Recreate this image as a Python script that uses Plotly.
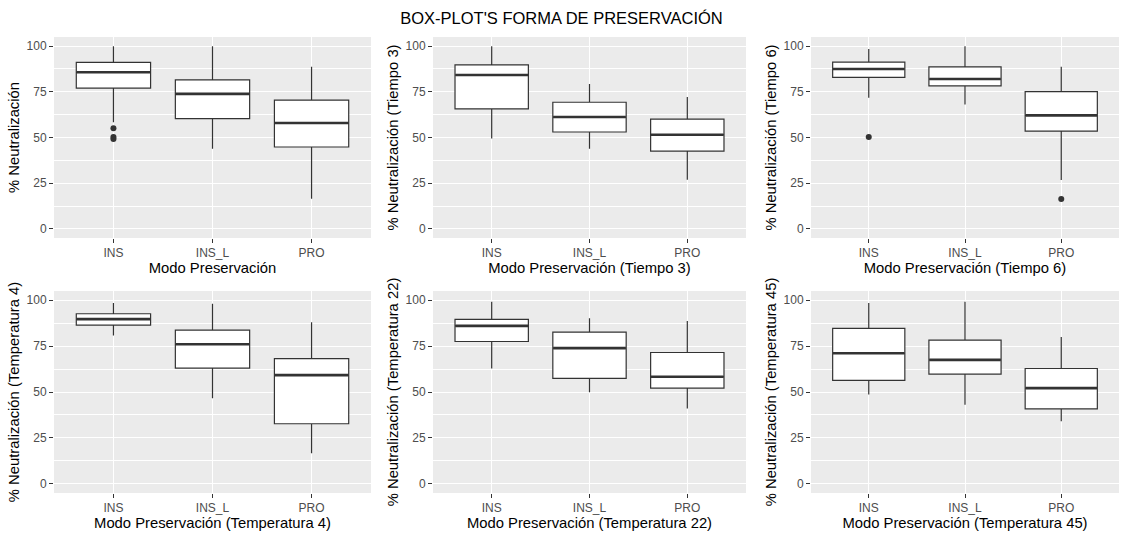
import plotly.graph_objects as go

categories = ["INS", "INS_L", "PRO"]

x_titles = [
    "Modo Preservación",
    "Modo Preservación (Tiempo 3)",
    "Modo Preservación (Tiempo 6)",
    "Modo Preservación (Temperatura 4)",
    "Modo Preservación (Temperatura 22)",
    "Modo Preservación (Temperatura 45)",
]
y_titles = [
    "% Neutralización",
    "% Neutralización (Tiempo 3)",
    "% Neutralización (Tiempo 6)",
    "% Neutralización (Temperatura 4)",
    "% Neutralización (Temperatura 22)",
    "% Neutralización (Temperatura 45)",
]

lower_fence = [
    [58.4, 43.9, 16.5],
    [49.4, 43.9, 26.9],
    [71.7, 68.1, 26.7],
    [80.8, 46.6, 16.7],
    [62.8, 49.9, 41.0],
    [48.6, 43.0, 34.1],
]
q1 = [
    [77.0, 60.3, 44.8],
    [65.7, 53.0, 42.5],
    [82.9, 78.2, 53.5],
    [86.4, 63.0, 32.7],
    [77.5, 57.4, 52.1],
    [56.3, 59.7, 40.8],
]
medians = [
    [85.7, 73.9, 57.9],
    [84.2, 61.2, 51.5],
    [87.5, 82.0, 62.1],
    [89.7, 76.0, 59.2],
    [86.0, 73.9, 58.3],
    [71.1, 67.5, 52.1],
]
q3 = [
    [91.1, 81.5, 70.4],
    [89.7, 69.3, 60.1],
    [91.3, 88.6, 75.1],
    [92.6, 83.7, 68.2],
    [89.5, 82.6, 71.5],
    [84.6, 78.2, 62.8],
]
upper_fence = [
    [100.0, 100.0, 88.7],
    [100.0, 79.3, 72.1],
    [98.4, 100.0, 88.7],
    [98.4, 98.0, 88.0],
    [99.1, 90.2, 88.7],
    [98.4, 99.1, 80.0],
]
outlier_cats = [["INS", "INS", "INS"], [], ["INS", "PRO"], [], [], []]
outlier_vals = [[55.0, 50.3, 49.2], [], [50.3, 16.3], [], [], []]

W, H = 1123, 534
x_px = [(54, 371), (433, 746), (811, 1119)]
y_px = [(37, 238), (291, 493)]

fig = go.Figure()
layout = {}
font_family = "Liberation Sans, Arial, sans-serif"

for i in range(6):
    r, c = divmod(i, 3)
    n = "" if i == 0 else str(i + 1)
    xa, ya = "x" + n, "y" + n
    x0, x1 = x_px[c]
    y0, y1 = y_px[r]
    fig.add_trace(go.Box(
        x=categories, q1=q1[i], median=medians[i], q3=q3[i],
        lowerfence=lower_fence[i], upperfence=upper_fence[i],
        boxpoints=False, width=0.75, whiskerwidth=0,
        fillcolor="white", line=dict(color="#333333", width=1.2),
        xaxis=xa, yaxis=ya, showlegend=False, hoverinfo="skip",
    ))
    box_px = (x1 - x0) / 3.2 * 0.75
    fig.add_trace(go.Scatter(
        x=categories, y=medians[i], mode="markers",
        marker=dict(symbol="line-ew", size=box_px / 1.4 - 0.5,
                    line=dict(color="#333333", width=2.6)),
        xaxis=xa, yaxis=ya, showlegend=False, hoverinfo="skip",
    ))
    if outlier_vals[i]:
        fig.add_trace(go.Scatter(
            x=outlier_cats[i], y=outlier_vals[i], mode="markers",
            marker=dict(color="#333333", size=6),
            xaxis=xa, yaxis=ya, showlegend=False, hoverinfo="skip",
        ))
    layout["xaxis" + n] = dict(
        domain=[x0 / W, x1 / W], anchor=ya, type="category",
        categoryorder="array", categoryarray=categories,
        range=[-0.6, 2.6], showgrid=True, gridcolor="white", gridwidth=1.1,
        ticks="outside", ticklen=4, tickcolor="#333333", tickwidth=1,
        tickfont=dict(size=12, color="#4D4D4D", family=font_family),
        title=dict(text=x_titles[i], font=dict(size=14.8, color="black", family=font_family), standoff=2),
        zeroline=False, showline=False, fixedrange=True,
    )
    layout["yaxis" + n] = dict(
        domain=[1 - y1 / H, 1 - y0 / H], anchor=xa,
        range=[-5, 105], tickvals=[0, 25, 50, 75, 100],
        showgrid=True, gridcolor="white", gridwidth=1.1,
        minor=dict(tickvals=[12.5, 37.5, 62.5, 87.5], showgrid=True,
                   gridcolor="white", gridwidth=0.5, ticks=""),
        ticks="outside", ticklen=4, tickcolor="#333333", tickwidth=1,
        tickfont=dict(size=12, color="#4D4D4D", family=font_family),
        title=dict(text=y_titles[i], font=dict(size=14.8, color="black", family=font_family), standoff=3),
        zeroline=False, showline=False, fixedrange=True,
    )

fig.update_layout(
    width=W, height=H,
    margin=dict(l=0, r=0, t=0, b=0),
    paper_bgcolor="white", plot_bgcolor="#EBEBEB",
    font=dict(family=font_family),
    title=dict(text="BOX-PLOT'S FORMA DE PRESERVACIÓN", x=0.5, xanchor="center",
               y=1 - 18 / H, yanchor="middle",
               font=dict(size=16.5, color="black", family=font_family)),
    **layout,
)

fig.write_html("out.html")
